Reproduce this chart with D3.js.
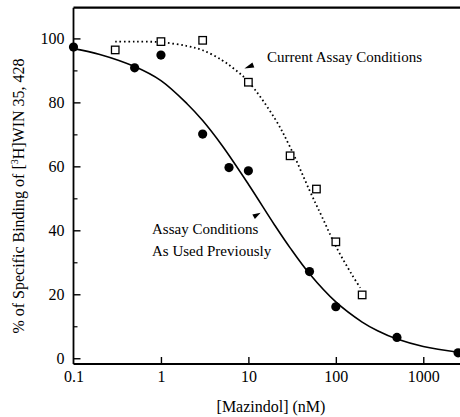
<!DOCTYPE html>
<html><head><meta charset="utf-8">
<script src="https://cdn.jsdelivr.net/npm/d3@7"></script>
<style>
html,body{margin:0;padding:0;background:#fff;}
svg{display:block;font-family:"Liberation Serif","Times New Roman",serif;}
</style></head>
<body>
<svg id="chart" width="460" height="417"></svg>
<script>
// ---- data ----
const xTickValues = [0.1, 1, 10, 100, 1000];
const xTickLabels = ["0.1", "1", "10", "100", "1000"];
const yTickValues = [0, 20, 40, 60, 80, 100];
const yMinorTicks = [10, 30, 50, 70, 90];

// Filled circles: "Assay Conditions As Used Previously"
const prevConc = [0.1, 0.5, 1, 3, 6, 10, 50, 100, 500, 2500];
const prevBind = [97.3, 90.8, 94.8, 70.1, 59.6, 58.6, 27.1, 16.1, 6.5, 1.7];
// Open squares: "Current Assay Conditions"
const currConc = [0.3, 1, 3, 10, 30, 60, 100, 200];
const currBind = [96.4, 99.0, 99.4, 86.3, 63.3, 52.9, 36.4, 19.8];

// Fitted curves
const prevCurveConc = [0.1, 0.2, 0.5, 1, 2, 3, 5, 10, 20, 30, 50, 100, 200, 300, 500, 1000, 2630];
const prevCurveBind = [96.8, 95, 91.2, 86.8, 79.5, 74.3, 66.5, 54.4, 41.6, 34.5, 26.4, 17.6, 11.3, 8.6, 6.0, 3.7, 1.8];
const currCurveConc = [0.3, 0.5, 1, 2, 3, 5, 7, 10, 20, 30, 50, 70, 100, 150, 190];
const currCurveBind = [99, 99, 98.8, 97.6, 96.3, 93.2, 90.3, 86.5, 75, 66, 52.5, 44, 35, 26.5, 22];

const xLabel = "[Mazindol] (nM)";
const yLabelPre = "% of Specific Binding of [";
const yLabelSup = "3";
const yLabelPost = "H]WIN 35, 428";
const noteCurrent = "Current Assay Conditions";
const notePrev = ["Assay Conditions", "As Used Previously"];

// ---- drawing ----
const svg = d3.select("#chart");
const pL = 73.5, pR = 460, pT = 7.7, pB = 364;
const x = d3.scaleLog().domain([0.1, 2630]).range([pL, pR]);
const y = d3.scaleLinear().domain([-1.8, 109.6]).range([pB, pT]);

const ax = svg.append("g").attr("fill", "none");

// frame lines
ax.append("line").attr("x1", pL).attr("x2", pL).attr("y1", pT).attr("y2", pB)
  .attr("stroke", "#000").attr("stroke-width", 1.8);
ax.append("line").attr("x1", pL).attr("x2", pR).attr("y1", pB).attr("y2", pB)
  .attr("stroke", "#000").attr("stroke-width", 2);
ax.append("line").attr("x1", pL).attr("x2", pR).attr("y1", pT).attr("y2", pT)
  .attr("stroke", "#000").attr("stroke-width", 2.2);

// y axis major
const yAxis = d3.axisLeft(y).tickValues(yTickValues).tickSize(-7).tickPadding(9).tickFormat(d3.format("d"));
const gy = svg.append("g").attr("transform", `translate(${pL},0)`).call(yAxis);
gy.select(".domain").remove();
gy.selectAll(".tick line").attr("stroke", "#000").attr("stroke-width", 1.4);
gy.selectAll(".tick text").attr("font-size", 16).attr("font-family", "Liberation Serif").attr("fill", "#000");

// y axis minor
const yMinor = d3.axisLeft(y).tickValues(yMinorTicks).tickSize(-4).tickFormat("");
const gym = svg.append("g").attr("transform", `translate(${pL},0)`).call(yMinor);
gym.select(".domain").remove();
gym.selectAll(".tick line").attr("stroke", "#000").attr("stroke-width", 1.2);

// x axis
const xAxis = d3.axisBottom(x).tickValues(xTickValues).tickSize(-7).tickPadding(7)
  .tickFormat((d, i) => xTickLabels[i]);
const gx = svg.append("g").attr("transform", `translate(0,${pB})`).call(xAxis);
gx.select(".domain").remove();
gx.selectAll(".tick line").attr("stroke", "#000").attr("stroke-width", 1.4)
  .filter(d => d === 0.1).remove();
gx.selectAll(".tick text").attr("font-size", 16).attr("font-family", "Liberation Serif").attr("fill", "#000");

// axis titles
svg.append("text").attr("x", 271).attr("y", 412).attr("text-anchor", "middle")
  .attr("font-size", 16).text(xLabel);

const yl = svg.append("text").attr("transform", "translate(24,196) rotate(-90)")
  .attr("text-anchor", "middle").attr("font-size", 16);
yl.append("tspan").text(yLabelPre);
yl.append("tspan").attr("font-size", 10).attr("dy", -6).text(yLabelSup);
yl.append("tspan").attr("dy", 6).text(yLabelPost);

// curves
const line = d3.line().x(d => x(d[0])).y(d => y(d[1])).curve(d3.curveCatmullRom.alpha(0.5));
const prevCurve = prevCurveConc.map((c, i) => [c, prevCurveBind[i]]);
const currCurve = currCurveConc.map((c, i) => [c, currCurveBind[i]]);

svg.append("path").datum(prevCurve).attr("d", line)
  .attr("fill", "none").attr("stroke", "#000").attr("stroke-width", 1.6);
svg.append("path").datum(currCurve).attr("d", line)
  .attr("fill", "none").attr("stroke", "#000").attr("stroke-width", 1.8)
  .attr("stroke-dasharray", "1.6,2.8");

// markers
const prevPts = prevConc.map((c, i) => [c, prevBind[i]]);
const currPts = currConc.map((c, i) => [c, currBind[i]]);
svg.append("g").selectAll("circle").data(prevPts).join("circle")
  .attr("cx", d => x(d[0])).attr("cy", d => y(d[1])).attr("r", 4.6).attr("fill", "#000");
const sq = 7.5;
svg.append("g").selectAll("rect").data(currPts).join("rect")
  .attr("x", d => x(d[0]) - sq / 2).attr("y", d => y(d[1]) - sq / 2)
  .attr("width", sq).attr("height", sq)
  .attr("fill", "#fff").attr("stroke", "#000").attr("stroke-width", 1.3);

// annotations
svg.append("text").attr("x", 267).attr("y", 62).attr("font-size", 15).text(noteCurrent);
svg.append("text").attr("x", 152).attr("y", 234).attr("font-size", 15).text(notePrev[0]);
svg.append("text").attr("x", 152).attr("y", 256).attr("font-size", 15).text(notePrev[1]);

// arrowheads (anchored in data space)
function arrowHead(tipC, tipV, dx, dy) {
  const tx = x(tipC), ty = y(tipV);
  const bx = tx + dx, by = ty + dy;
  const len = Math.hypot(dx, dy), nx = -dy / len * 2.6, ny = dx / len * 2.6;
  svg.append("path")
    .attr("d", `M${tx},${ty}L${bx + nx},${by + ny}L${bx - nx},${by - ny}Z`)
    .attr("fill", "#000");
}
arrowHead(9.0, 90.6, 9, -3.5);
arrowHead(13.8, 45.5, -7, 4);
</script>
</body></html>
